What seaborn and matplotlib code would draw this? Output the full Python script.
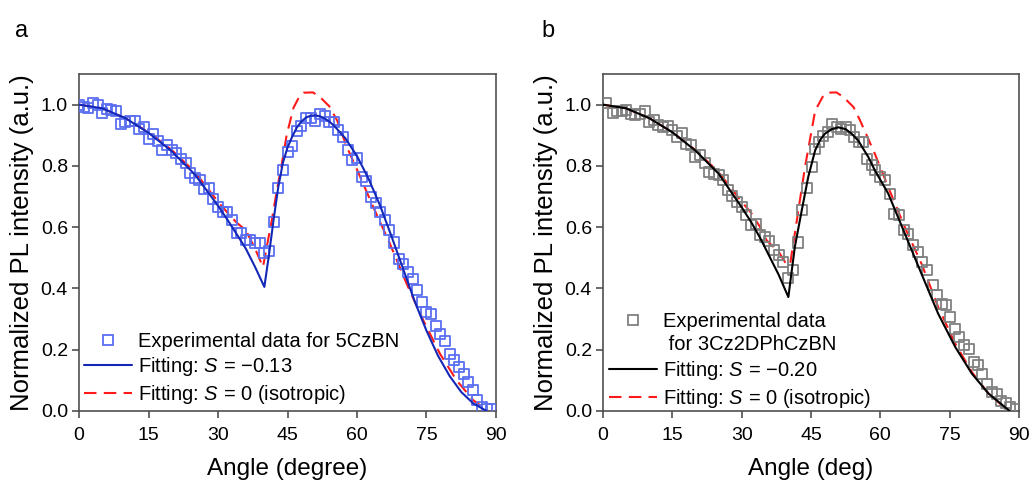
import matplotlib
matplotlib.use("Agg")
import matplotlib.pyplot as plt
import seaborn as sns
from matplotlib.lines import Line2D

# ---------------- data ----------------
# Panel a: 5CzBN experimental data
exp_a_x = list(range(0, 90))
exp_a_y = [1.0, 0.993, 0.99, 1.005, 1.0, 0.973, 0.987, 0.983, 0.98, 0.938,
           0.943, 0.948, 0.946, 0.922, 0.927, 0.889, 0.903, 0.88, 0.851, 0.867,
           0.853, 0.842, 0.822, 0.81, 0.778, 0.762, 0.753, 0.726, 0.729, 0.693,
           0.666, 0.65, 0.65, 0.625, 0.58, 0.58, 0.557, 0.557, 0.548, 0.548,
           0.516, 0.522, 0.617, 0.729, 0.788, 0.845, 0.864, 0.914, 0.929, 0.957,
           0.957, 0.947, 0.97, 0.962, 0.943, 0.943, 0.916, 0.894, 0.851, 0.818,
           0.827, 0.764, 0.75, 0.698, 0.679, 0.65, 0.622, 0.59, 0.55, 0.497,
           0.48, 0.454, 0.432, 0.394, 0.356, 0.323, 0.318, 0.277, 0.252, 0.227,
           0.185, 0.168, 0.144, 0.122, 0.095, 0.07, 0.037, 0.013, 0.008, 0.008]

# Panel a: fit S = -0.13
fit_a_x = [0, 5, 10, 15, 20, 25, 30, 32, 34, 36, 38, 40,
           41, 42, 43, 44, 45, 46, 47, 48, 49, 50, 51, 52, 53, 54, 55,
           57.5, 60, 62.5, 65, 67.5, 70, 72.5, 75, 77.5, 80, 82.5, 85, 87.5, 88]
fit_a_y = [1.0, 0.988, 0.956, 0.908, 0.848, 0.772, 0.67, 0.625, 0.578, 0.53, 0.47, 0.405,
           0.51, 0.625, 0.73, 0.81, 0.86, 0.895, 0.925, 0.945, 0.958, 0.964, 0.965, 0.962,
           0.955, 0.945, 0.932, 0.89, 0.832, 0.758, 0.67, 0.568, 0.462, 0.356, 0.262,
           0.18, 0.114, 0.062, 0.026, 0.004, 0.0]

# Panel a: isotropic S = 0
iso_a_x = [0, 5, 10, 15, 20, 25, 30, 32, 34, 36, 38, 39.7,
           41.6, 42.7, 43.7, 44.8, 46.3, 47.5, 48.5, 50.5, 52, 54, 55.7,
           57.8, 60.7, 63.5, 67.1, 70.7, 74.3, 77.9, 81.5, 85.1, 88.3]
iso_a_y = [1.0, 0.988, 0.956, 0.91, 0.852, 0.78, 0.683, 0.648, 0.615, 0.59, 0.53, 0.47,
           0.622, 0.72, 0.8, 0.9, 0.99, 1.025, 1.039, 1.04, 1.025, 0.995, 0.949,
           0.862, 0.764, 0.666, 0.546, 0.416, 0.296, 0.187, 0.1, 0.035, 0.0]

# Panel b: 3Cz2DPhCzBN experimental data
exp_b_x = [0.7, 2.2, 3, 4.1, 5, 6, 7, 8, 9, 10, 11, 12, 13, 14, 15, 16, 17, 18, 19,
           20, 21, 22, 23, 24, 25, 26, 27, 28, 29, 30, 31, 32, 33, 34, 35, 36, 37,
           38, 39, 40, 41.2, 42.1, 43, 44.1, 45.2, 45.9, 46.8, 47.7, 48.6, 49.6,
           50.6, 51.5, 52.6, 53.5, 54.4, 55.3, 56.2, 57.1, 58.2, 58.9, 60, 61,
           62.1, 63, 64, 65.1, 66, 67.1, 68.2, 69.1, 70.2, 71.3, 72.2, 73.3, 74.2,
           75.1, 76.2, 77.1, 78.2, 79.2, 80.3, 81.2, 82.1, 83.1, 84.1, 85.2, 86,
           87.2, 88, 89.3]
exp_b_y = [1.005, 0.973, 0.98, 0.98, 0.984, 0.97, 0.965, 0.97, 0.98, 0.943, 0.951,
           0.932, 0.927, 0.929, 0.918, 0.896, 0.907, 0.873, 0.867, 0.829, 0.835,
           0.811, 0.78, 0.775, 0.771, 0.755, 0.72, 0.702, 0.682, 0.666, 0.641,
           0.606, 0.609, 0.573, 0.568, 0.554, 0.524, 0.508, 0.486, 0.435, 0.461,
           0.55, 0.655, 0.729, 0.797, 0.856, 0.878, 0.897, 0.911, 0.938, 0.927,
           0.921, 0.927, 0.916, 0.894, 0.878, 0.878, 0.824, 0.802, 0.786, 0.764,
           0.753, 0.709, 0.642, 0.639, 0.59, 0.579, 0.541, 0.519, 0.486, 0.459,
           0.41, 0.378, 0.35, 0.345, 0.307, 0.269, 0.242, 0.214, 0.203, 0.16,
           0.149, 0.122, 0.089, 0.062, 0.057, 0.033, 0.026, 0.013, 0.008]

# Panel b: fit S = -0.20
fit_b_x = [0, 5, 10, 15, 20, 25, 30, 32, 34, 36, 38, 40.1,
           41.5, 43.0, 44.4, 45.9, 47, 48, 49.5, 50.9, 52.5, 53.8, 55.2,
           57.4, 58.8, 61.7, 65.3, 68.9, 72.5, 76.2, 79.8, 83.4, 87, 88]
fit_b_y = [1.0, 0.988, 0.956, 0.91, 0.85, 0.775, 0.665, 0.618, 0.565, 0.505, 0.445, 0.372,
           0.535, 0.655, 0.764, 0.851, 0.885, 0.905, 0.92, 0.926, 0.92, 0.905, 0.883,
           0.829, 0.786, 0.71, 0.579, 0.448, 0.318, 0.209, 0.122, 0.057, 0.012, 0.0]

# Panel b: isotropic S = 0
iso_b_x = [0, 5, 10, 15, 20, 25, 30, 32, 34, 35.4, 38, 39.8,
           40.5, 41.5, 42.6, 43.7, 45.9, 47.5, 48.5, 50.5, 52, 54.2, 55.6,
           58.8, 61.7, 65.3, 68.9, 72.5, 76.2, 79.8, 83.4, 87.7]
iso_b_y = [1.0, 0.988, 0.956, 0.91, 0.852, 0.78, 0.683, 0.648, 0.6, 0.557, 0.52, 0.476,
           0.481, 0.579, 0.688, 0.796, 0.98, 1.025, 1.039, 1.04, 1.025, 0.992, 0.949,
           0.84, 0.731, 0.6, 0.481, 0.34, 0.22, 0.127, 0.057, 0.0]

x_ticks = [0, 15, 30, 45, 60, 75, 90]
y_ticks = [0.0, 0.2, 0.4, 0.6, 0.8, 1.0]

labels_a = ["Experimental data for 5CzBN", "Fitting: $S$ = \u22120.13",
            "Fitting: $S$ = 0 (isotropic)"]
labels_b = ["Experimental data", " for 3Cz2DPhCzBN", "Fitting: $S$ = \u22120.20",
            "Fitting: $S$ = 0 (isotropic)"]

# ---------------- style ----------------
sns.set_theme(style="ticks")
plt.rcParams["font.family"] = ["Liberation Sans", "DejaVu Sans"]
plt.rcParams["mathtext.fontset"] = "custom"
plt.rcParams["mathtext.rm"] = "Liberation Sans"
plt.rcParams["mathtext.it"] = "Liberation Sans:italic"
plt.rcParams["text.color"] = "black"
plt.rcParams["axes.labelcolor"] = "black"

BLUE_M = "#5b6ef0"
BLUE_L = "#1428b8"
RED = "#ff1a1a"
GRAY_M = "#808080"
SPINE = "#505050"
DASH = (6, 3.5)
LW = 1.5

fig = plt.figure(figsize=(10.32, 4.8), dpi=100)
ax_a = fig.add_axes([0.0766, 0.1438, 0.404, 0.702])
ax_b = fig.add_axes([0.5843, 0.1438, 0.4031, 0.702])


def draw(ax, ex, ey, fx, fy, ix, iy, mcol, lcol, labels, xlabel, leg_anchor):
    sns.scatterplot(x=ex, y=ey, ax=ax, marker="s", s=52, facecolor="none",
                    edgecolor=mcol, linewidth=1.3, zorder=3, legend=False)
    sns.lineplot(x=fx, y=fy, ax=ax, color=lcol, linewidth=LW, sort=False,
                 estimator=None, zorder=4, legend=False)
    sns.lineplot(x=ix, y=iy, ax=ax, color=RED, linewidth=LW, sort=False,
                 estimator=None, zorder=2, legend=False)
    ax.lines[-1].set_dashes(DASH)
    ax.set_xlim(0, 90)
    ax.set_ylim(0, 1.1)
    ax.set_xticks(x_ticks)
    ax.set_yticks(y_ticks)
    ax.set_yticklabels([f"{v:.1f}" for v in y_ticks])
    ax.tick_params(axis="both", labelsize=14, length=5, width=1.2,
                   color=SPINE, labelcolor="black", direction="out")
    ax.tick_params(axis="x", pad=6.5)
    ax.tick_params(axis="y", pad=3)
    for sp in ax.spines.values():
        sp.set_color(SPINE)
        sp.set_linewidth(1.2)
    ax.set_xlabel(xlabel, fontsize=17.5, labelpad=10)
    ax.set_ylabel("Normalized PL intensity (a.u.)", fontsize=18.5, labelpad=5)
    handles = [
        Line2D([], [], marker="s", linestyle="none", markersize=7,
               markerfacecolor="none", markeredgecolor=mcol, markeredgewidth=1.3),
    ]
    if len(labels) == 4:
        handles.append(Line2D([], [], linestyle="none"))
    handles += [
        Line2D([], [], color=lcol, linewidth=LW),
        Line2D([], [], color=RED, linewidth=LW, dashes=DASH),
    ]
    ax.legend(handles, labels, loc="lower left", bbox_to_anchor=leg_anchor,
              frameon=False, fontsize=14.5, handlelength=2.4, handletextpad=0.3,
              labelspacing=0.23, borderpad=0.0, borderaxespad=0.0)


draw(ax_a, exp_a_x, exp_a_y, fit_a_x, fit_a_y, iso_a_x, iso_a_y,
     BLUE_M, BLUE_L, labels_a, "Angle (degree)", (0.012, 0.015))
draw(ax_b, exp_b_x, exp_b_y, fit_b_x, fit_b_y, iso_b_x, iso_b_y,
     GRAY_M, "black", labels_b, "Angle (deg)", (0.014, 0.004))

fig.text(0.0145, 0.935, "a", fontsize=17, ha="left", va="center")
fig.text(0.525, 0.935, "b", fontsize=17, ha="left", va="center")

fig.savefig("out.png", dpi=100, facecolor="white")
